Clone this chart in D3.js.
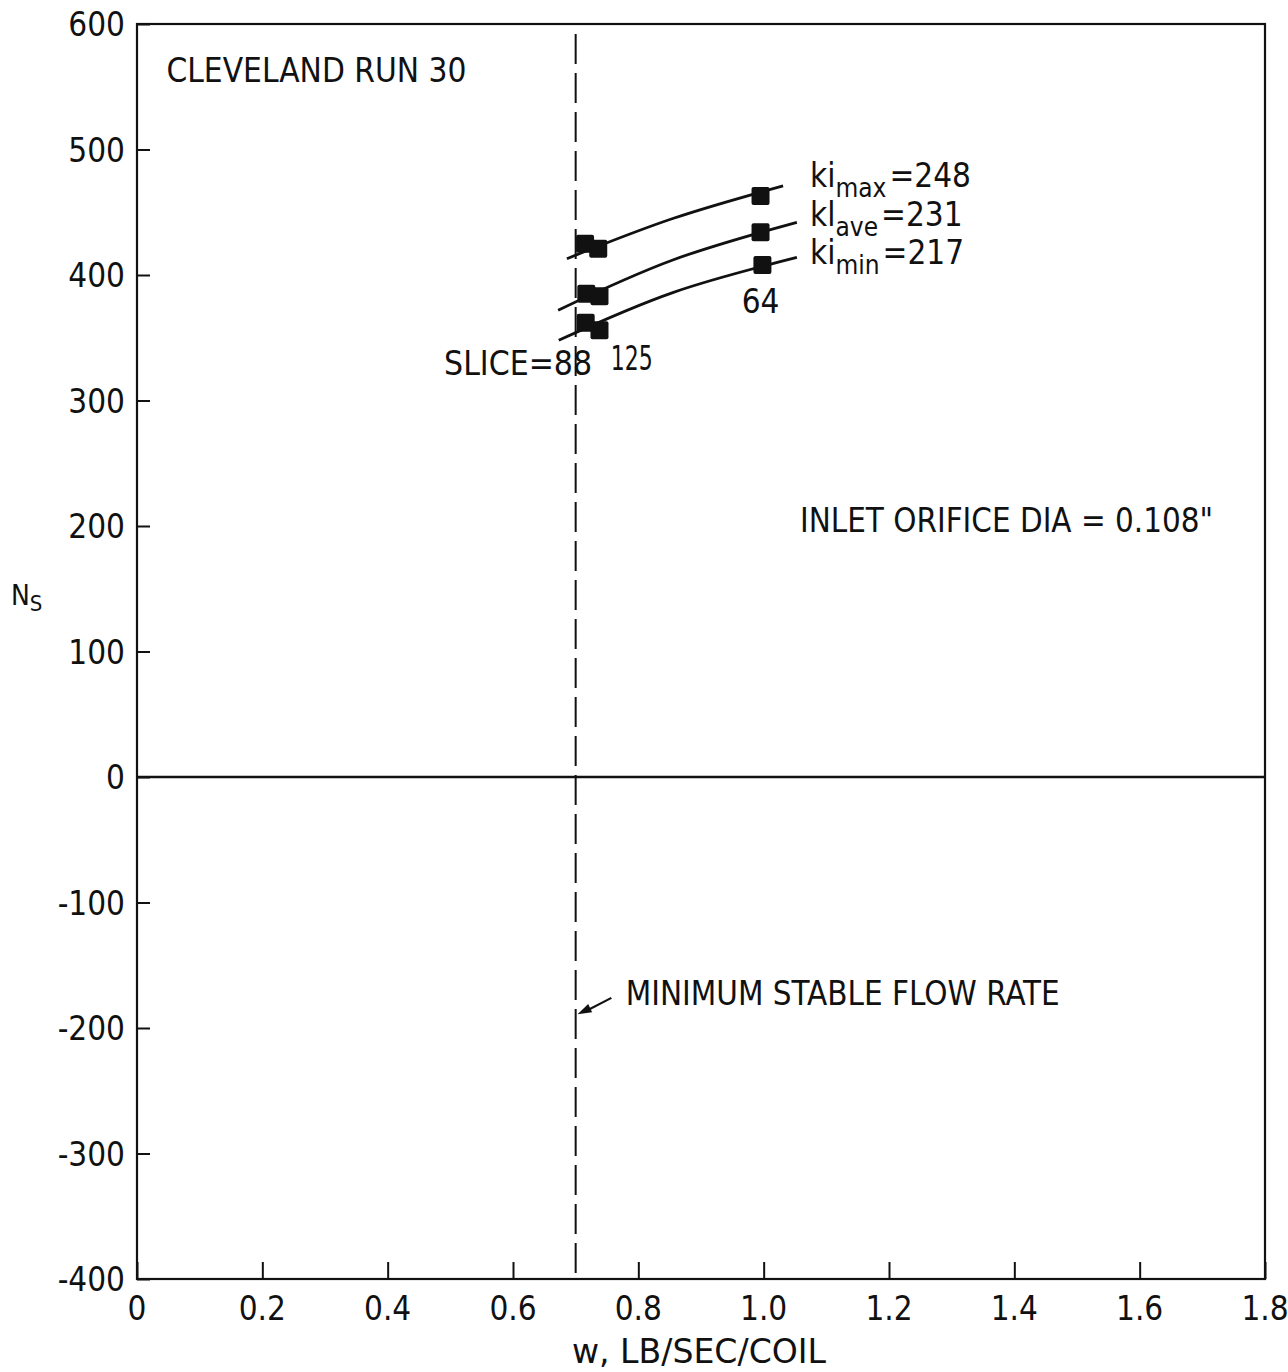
<!DOCTYPE html>
<html>
<head>
<meta charset="utf-8">
<script src="https://cdn.jsdelivr.net/npm/d3@7"></script>
<style>
  html, body { margin: 0; padding: 0; background: #fff; }
  svg text { font-family: "DejaVu Sans Condensed", "Liberation Sans Narrow", "DejaVu Sans", sans-serif; font-stretch: condensed; fill: #111; }
</style>
</head>
<body>
<svg id="chart" width="1288" height="1372"></svg>
<script>
// Axis ticks
const xTicks = [0, 0.2, 0.4, 0.6, 0.8, 1.0, 1.2, 1.4, 1.6, 1.8];
const xTickLabels = ["0", "0.2", "0.4", "0.6", "0.8", "1.0", "1.2", "1.4", "1.6", "1.8"];
const yTicks = [600, 500, 400, 300, 200, 100, 0, -100, -200, -300, -400];
const yTickLabels = ["600", "500", "400", "300", "200", "100", "0", "-100", "-200", "-300", "-400"];

// Measured points (w, Ns) for slices 88, 125, 64
const slices = ["88", "125", "64"];
const kiMaxPoints = [[0.715, 425], [0.736, 421], [0.995, 463]];
const klAvePoints = [[0.717, 385], [0.738, 383], [0.995, 434]];
const kiMinPoints = [[0.716, 362], [0.738, 356], [0.998, 408]];

// Faired curves through each set
const kiMaxCurve = [[0.686, 413], [0.855, 445], [1.031, 471]];
const klAveCurve = [[0.672, 372], [0.855, 412], [1.053, 442]];
const kiMinCurve = [[0.673, 348], [0.855, 386], [1.053, 414]];

// Minimum stable flow rate
const minStableFlow = 0.7;

const W = 1288, H = 1372;
const margin = { left: 137, top: 24, right: 23, bottom: 93 };
const svg = d3.select("#chart");

const x = d3.scaleLinear().domain([0, 1.8]).range([margin.left, W - margin.right]);
const y = d3.scaleLinear().domain([-400, 600]).range([H - margin.bottom, margin.top]);

const ink = "#111";

// Frame
svg.append("rect")
  .attr("x", x(0)).attr("y", y(600))
  .attr("width", x(1.8) - x(0)).attr("height", y(-400) - y(600))
  .attr("fill", "none").attr("stroke", ink).attr("stroke-width", 2.2);

// Left axis: inward ticks
const yAxis = d3.axisRight(y).tickValues(yTicks).tickSize(13).tickFormat("");
svg.append("g").attr("transform", `translate(${x(0)},0)`).call(yAxis)
  .call(g => g.select(".domain").remove())
  .call(g => g.selectAll("line").attr("stroke", ink).attr("stroke-width", 2));
svg.append("g").selectAll("text").data(yTicks).join("text")
  .attr("x", x(0) - 12).attr("y", d => y(d) + 12)
  .attr("text-anchor", "end").attr("font-size", 33)
  .text((d, i) => yTickLabels[i]);

// Bottom axis: inward ticks
const xAxis = d3.axisTop(x).tickValues(xTicks).tickSize(17).tickFormat("");
svg.append("g").attr("transform", `translate(0,${y(-400)})`).call(xAxis)
  .call(g => g.select(".domain").remove())
  .call(g => g.selectAll("line").attr("stroke", ink).attr("stroke-width", 2));
svg.append("g").selectAll("text").data(xTicks).join("text")
  .attr("x", d => x(d)).attr("y", y(-400) + 41)
  .attr("text-anchor", "middle").attr("font-size", 33)
  .text((d, i) => xTickLabels[i]);

// Zero line
svg.append("line")
  .attr("x1", x(0)).attr("x2", x(1.8)).attr("y1", y(0)).attr("y2", y(0))
  .attr("stroke", ink).attr("stroke-width", 2.5);

// Minimum stable flow line
svg.append("line")
  .attr("x1", x(minStableFlow)).attr("x2", x(minStableFlow))
  .attr("y1", y(600) + 10).attr("y2", y(-400))
  .attr("stroke", ink).attr("stroke-width", 2)
  .attr("stroke-dasharray", "30,9");

// Curves
const line = d3.line().x(d => x(d[0])).y(d => y(d[1])).curve(d3.curveNatural);
[kiMaxCurve, klAveCurve, kiMinCurve].forEach(c => {
  svg.append("path").attr("d", line(c))
    .attr("fill", "none").attr("stroke", ink).attr("stroke-width", 2.8);
});

// Markers
const sq = 18;
[kiMaxPoints, klAvePoints, kiMinPoints].forEach(pts => {
  svg.append("g").selectAll("rect").data(pts).join("rect")
    .attr("x", d => x(d[0]) - sq / 2).attr("y", d => y(d[1]) - sq / 2)
    .attr("width", sq).attr("height", sq).attr("rx", 2)
    .attr("fill", ink);
});

// Text helpers
function label(xv, yv, str, opts = {}) {
  const t = svg.append("text")
    .attr("x", x(xv)).attr("y", y(yv))
    .attr("font-size", opts.size || 33)
    .attr("text-anchor", opts.anchor || "start")
    .text(str);
  if (opts.len) t.attr("textLength", opts.len).attr("lengthAdjust", "spacingAndGlyphs");
  return t;
}

label(0.047, 554, "CLEVELAND RUN 30", { len: 300 });
label(1.058, 195, "INLET ORIFICE DIA = 0.108\"", { len: 413 });
label(0.780, -182, "MINIMUM STABLE FLOW RATE", { len: 434 });
label(0.490, 320, "SLICE=" + slices[0], { len: 148 });
label(0.756, 324, slices[1], { len: 42 });
label(0.965, 370, slices[2]);

// Series labels with subscripts
function kLabel(xv, yv, base, sub, rest) {
  const t = svg.append("text").attr("x", x(xv)).attr("y", y(yv)).attr("font-size", 33);
  t.append("tspan").text(base);
  t.append("tspan").attr("dy", 10).attr("font-size", 26).text(sub);
  t.append("tspan").attr("dy", -10).attr("dx", 3).text(rest);
}
kLabel(1.074, 470, "ki", "max", "=248");
kLabel(1.074, 439, "kl", "ave", "=231");
kLabel(1.074, 409, "ki", "min", "=217");

// Arrow to the minimum stable flow line
const ax1 = x(0.757), ay1 = y(-176);
const ax2 = x(0.703), ay2 = y(-189);
svg.append("line").attr("x1", ax1).attr("y1", ay1).attr("x2", ax2 + 8).attr("y2", ay2 - 3)
  .attr("stroke", ink).attr("stroke-width", 2.2);
const ang = Math.atan2(ay2 - ay1, ax2 - ax1);
const hl = 14, hw = 4.5;
const bx = ax2 - hl * Math.cos(ang), by = ay2 - hl * Math.sin(ang);
svg.append("path")
  .attr("d", `M${ax2},${ay2} L${bx - hw * Math.sin(ang)},${by + hw * Math.cos(ang)} L${bx + hw * Math.sin(ang)},${by - hw * Math.cos(ang)} Z`)
  .attr("fill", ink);

// Axis titles
svg.append("text").attr("x", 699).attr("y", 1363).attr("text-anchor", "middle")
  .attr("font-size", 33).attr("textLength", 254).attr("lengthAdjust", "spacingAndGlyphs")
  .text("w, LB/SEC/COIL");
const yl = svg.append("text").attr("x", 11).attr("y", 605).attr("font-size", 28);
yl.append("tspan").text("N");
yl.append("tspan").attr("dy", 6).attr("font-size", 22).text("S");
</script>
</body>
</html>
